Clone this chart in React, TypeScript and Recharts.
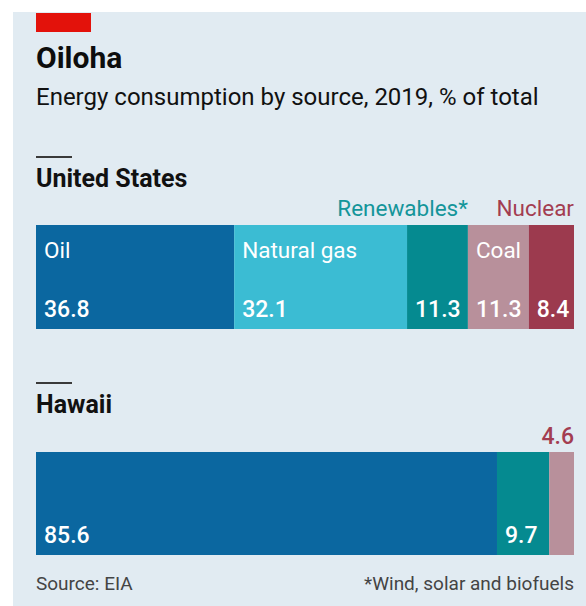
import React from 'react';
import { BarChart, Bar, XAxis, YAxis, LabelList } from 'recharts';

const sources = ['Oil', 'Natural gas', 'Renewables', 'Coal', 'Nuclear'];
const sourceNames = ['Oil', 'Natural gas', 'Renewables*', 'Coal', 'Nuclear'];
const usShares = [36.8, 32.1, 11.3, 11.3, 8.4];
const hawaiiShares = [85.6, 0, 9.7, 4.6, 0];

const colors = ['#0b67a0', '#3bbcd3', '#058a90', '#b8909b', '#9c3a4e'];
const outsideColors = ['#0b67a0', '#3bbcd3', '#14959a', '#b8909b', '#a33d51'];

const FONT = 'Roboto, "Noto Sans", sans-serif';
const BG = '#e1ebf2';
const CHART_W = 538;

const toRow = (region: string, shares: number[]) => {
    const row: Record<string, any> = { region };
    sources.forEach((s, i) => { row[s] = shares[i]; });
    return row;
};

// where each label goes, per chart: 'in' = inside the segment, 'out' = above it, right-aligned
type Mode = { name: ('in' | 'out' | null)[]; value: ('in' | 'out' | null)[] };

const usMode: Mode = {
    name: ['in', 'in', 'out', 'in', 'out'],
    value: ['in', 'in', 'in', 'in', 'in'],
};
const hawaiiMode: Mode = {
    name: [null, null, null, null, null],
    value: ['in', null, 'in', 'out', null],
};

const SegmentLabel = (props: any) => {
    const { x, y, width, height, i, mode } = props;
    const value = props.value;
    const parts: React.ReactNode[] = [];
    const nm = mode.name[i];
    const vm = mode.value[i];
    if (nm === 'in') {
        parts.push(
            <text key="n" x={x + 8} y={y + 33} fill="#fff" fontSize={22.5} fontFamily={FONT}>
                {sourceNames[i]}
            </text>
        );
    } else if (nm === 'out') {
        parts.push(
            <text key="n" x={x + width} y={y - 9} textAnchor="end" fill={outsideColors[i]} fontSize={22.5} fontFamily={FONT}>
                {sourceNames[i]}
            </text>
        );
    }
    if (vm === 'in') {
        parts.push(
            <text key="v" x={x + 8} y={y + height - 12} fill="#fff" fontSize={23} fontWeight={500} fontFamily={FONT}>
                {value}
            </text>
        );
    } else if (vm === 'out') {
        parts.push(
            <text key="v" x={x + width} y={y - 8} textAnchor="end" fill={outsideColors[4]} fontSize={23} fontWeight={500} fontFamily={FONT}>
                {value}
            </text>
        );
    }
    return <g>{parts}</g>;
};

const StackedShare = (props: { region: string; shares: number[]; mode: Mode; height: number }) => {
    const total = props.shares.reduce((a, b) => a + b, 0);
    const data = [toRow(props.region, props.shares)];
    return (
        <BarChart
            width={CHART_W}
            height={props.height + 50}
            data={data}
            layout="vertical"
            margin={{ top: 50, right: 0, bottom: 0, left: 0 }}
            barCategoryGap={0}
            style={{ overflow: 'visible' }}
        >
            <XAxis type="number" domain={[0, total]} hide />
            <YAxis type="category" dataKey="region" hide />
            {sources.map((s, i) =>
                props.shares[i] > 0 ? (
                    <Bar key={s} dataKey={s} stackId="a" fill={colors[i]} isAnimationActive={false}>
                        <LabelList
                            dataKey={s}
                            content={(p: any) => <SegmentLabel {...p} i={i} mode={props.mode} />}
                        />
                    </Bar>
                ) : null
            )}
        </BarChart>
    );
};

const Dash = ({ top }: { top: number }) => (
    <div style={{ position: 'absolute', left: 36, top, width: 36, height: 2, background: '#3a3a3a' }} />
);

const txt = (top: number, size: number, extra: React.CSSProperties = {}) => ({
    position: 'absolute' as const,
    left: 36,
    top,
    fontSize: size,
    fontFamily: FONT,
    lineHeight: `${size}px`,
    whiteSpace: 'nowrap' as const,
    color: '#111',
    ...extra,
});

export default function App() {
    return (
        <div style={{ position: 'absolute', left: 0, top: 0, width: 586, height: 606, background: '#fff', overflow: 'hidden' }}>
            <div style={{ position: 'absolute', left: 13, top: 12, width: 573, height: 594, background: BG }} />
            <div style={{ position: 'absolute', left: 36, top: 13, width: 55, height: 19, background: '#e3120b' }} />
            <div style={txt(43, 30, { fontWeight: 700, color: '#0d0d0d' })}>Oiloha</div>
            <div style={txt(85, 24)}>Energy consumption by source, 2019, % of total</div>

            <Dash top={156} />
            <div style={txt(166, 25, { fontWeight: 700 })}>United States</div>
            <div style={{ position: 'absolute', left: 36, top: 175 }}>
                <StackedShare region="United States" shares={usShares} mode={usMode} height={104} />
            </div>

            <Dash top={382} />
            <div style={txt(392, 25, { fontWeight: 700 })}>Hawaii</div>
            <div style={{ position: 'absolute', left: 36, top: 402 }}>
                <StackedShare region="Hawaii" shares={hawaiiShares} mode={hawaiiMode} height={103} />
            </div>

            <div style={txt(574, 19, { color: '#444' })}>Source: EIA</div>
            <div style={txt(574, 19, { color: '#444', left: undefined, right: 12 })}>*Wind, solar and biofuels</div>
        </div>
    );
}
